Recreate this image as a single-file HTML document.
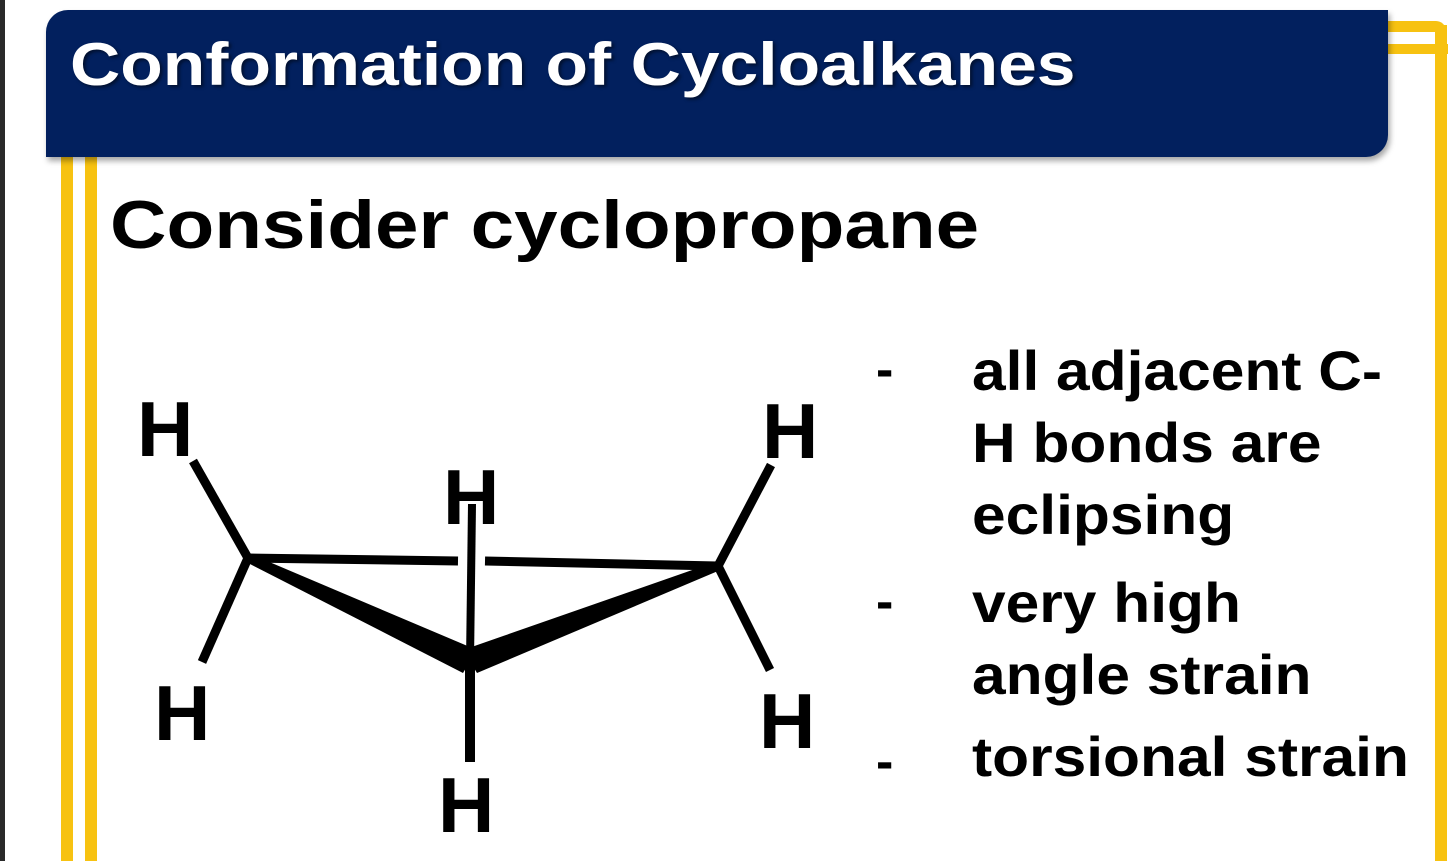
<!DOCTYPE html>
<html><head><style>
body{margin:0;width:1448px;height:861px;overflow:hidden;background:#fff;position:relative;font-family:"Liberation Sans",sans-serif;}
.t{position:absolute;font-weight:bold;white-space:nowrap;transform-origin:0 0;}
</style></head><body>
<div style="position:absolute;left:0;top:0;width:5px;height:861px;background:#2a2a2a"></div>
<div style="position:absolute;left:61px;top:150px;width:12px;height:711px;background:#f7c211"></div>
<div style="position:absolute;left:85px;top:150px;width:12px;height:711px;background:#f7c211"></div>
<div style="position:absolute;left:1380px;top:21px;width:66px;height:11px;background:#f7c211;border-top-right-radius:10px"></div>
<div style="position:absolute;left:1380px;top:44px;width:68px;height:10px;background:#f7c211"></div>
<div style="position:absolute;left:1435px;top:25px;width:12px;height:836px;background:#f7c211"></div>
<div style="position:absolute;left:46px;top:10px;width:1342px;height:147px;background:#02205e;border-top-left-radius:22px;border-bottom-right-radius:22px;box-shadow:2px 4px 6px rgba(0,0,0,0.35)"></div>
<div class="t" style="left:70px;top:30px;font-size:60px;color:#fff;text-shadow:2px 2px 3px rgba(0,0,0,0.5);transform:scaleX(1.16)">Conformation of Cycloalkanes</div>
<div class="t" style="left:110px;top:186px;font-size:68px;color:#000;transform:scaleX(1.15)">Consider cyclopropane</div>
<svg style="position:absolute;left:0;top:0" width="1448" height="861">
<g stroke="#000" stroke-width="9" fill="none">
<line x1="248" y1="558" x2="458" y2="561"/>
<line x1="485" y1="561" x2="718" y2="566"/>
<line x1="472" y1="504" x2="470" y2="662" stroke-width="8"/>
<line x1="470" y1="662" x2="470" y2="762" stroke-width="10"/>
<line x1="248" y1="558" x2="193" y2="461"/>
<line x1="248" y1="558" x2="202" y2="662"/>
<line x1="718" y1="566" x2="771" y2="465"/>
<line x1="718" y1="566" x2="770" y2="670"/>
</g>
<polygon points="248,553 248,563 463,673 477,650" fill="#000"/>
<polygon points="718,561 718,571 477,673 463,650" fill="#000"/>
</svg>
<div class="t" style="left:137px;top:384px;font-size:78px">H</div>
<div class="t" style="left:762px;top:386px;font-size:78px">H</div>
<div class="t" style="left:443px;top:452px;font-size:78px">H</div>
<div class="t" style="left:154px;top:668px;font-size:78px">H</div>
<div class="t" style="left:759px;top:676px;font-size:78px">H</div>
<div class="t" style="left:438px;top:760px;font-size:78px">H</div>
<div class="t" style="left:876px;top:340px;font-size:52px">-</div>
<div class="t" style="left:876px;top:572px;font-size:52px">-</div>
<div class="t" style="left:876px;top:732px;font-size:52px">-</div>
<div class="t" style="left:972px;top:335px;font-size:56px;line-height:72px;transform:scaleX(1.08)">all adjacent C-<br>H bonds are<br>eclipsing</div>
<div class="t" style="left:972px;top:567px;font-size:56px;line-height:72px;transform:scaleX(1.08)">very high<br>angle strain</div>
<div class="t" style="left:972px;top:721px;font-size:56px;line-height:72px;transform:scaleX(1.08)">torsional strain</div>
</body></html>
